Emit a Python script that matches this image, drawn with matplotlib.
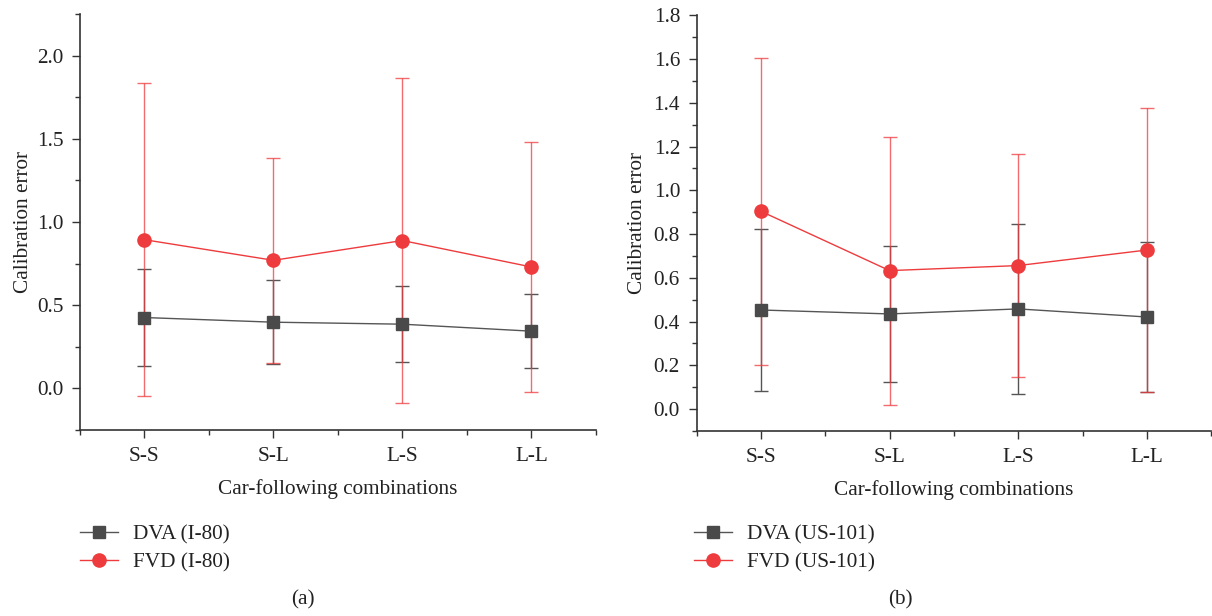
import numpy as np
import matplotlib.pyplot as plt
from matplotlib.ticker import MultipleLocator

plt.rcParams['font.family'] = ['Liberation Serif', 'DejaVu Serif']
plt.rcParams['font.size'] = 15.3
plt.rcParams['text.color'] = '#222222'
plt.rcParams['axes.labelcolor'] = '#222222'
plt.rcParams['xtick.color'] = '#333333'
plt.rcParams['ytick.color'] = '#333333'
plt.rcParams['xtick.labelcolor'] = '#222222'
plt.rcParams['ytick.labelcolor'] = '#222222'

combos = ["S-S", "S-L", "L-S", "L-L"]

# panel (a): I-80
dva_i80 = [0.426, 0.398, 0.386, 0.344]
dva_i80_err = [0.293, 0.252, 0.228, 0.223]
fvd_i80 = [0.894, 0.770, 0.889, 0.730]
fvd_i80_err = [0.940, 0.615, 0.975, 0.752]

# panel (b): US-101
dva_us101 = [0.453, 0.435, 0.458, 0.421]
dva_us101_err = [0.371, 0.309, 0.389, 0.342]
fvd_us101 = [0.904, 0.633, 0.656, 0.727]
fvd_us101_err = [0.702, 0.612, 0.508, 0.651]

GREY = '#4a4a4a'
RED = '#ee3b3d'


def draw_panel(ax, dva, dva_err, fvd, fvd_err, site, ylim, yticks, minor, ylabelpad):
    x = np.arange(1, len(combos) + 1)
    ax.errorbar(x, dva, yerr=dva_err, fmt='none', ecolor='#555555',
                elinewidth=1.0, capsize=5, capthick=1.0, zorder=2)
    ax.errorbar(x, fvd, yerr=fvd_err, fmt='none', ecolor=RED, alpha=0.75,
                elinewidth=1.0, capsize=5, capthick=1.0, zorder=3)
    ax.plot(x, dva, color='#555555', linewidth=1.0, marker='s', markersize=8.5,
            markerfacecolor=GREY, markeredgecolor=GREY, zorder=4,
            label="DVA (%s)" % site)
    ax.plot(x, fvd, color=RED, linewidth=1.0, marker='o', markersize=9.5,
            markerfacecolor=RED, markeredgecolor=RED, zorder=5,
            label="FVD (%s)" % site)

    ax.set_xlim(0.5, 4.5)
    ax.set_ylim(*ylim)
    ax.set_xticks(x)
    ax.set_xticklabels(combos)
    ax.xaxis.set_minor_locator(plt.FixedLocator([0.5, 1.5, 2.5, 3.5, 4.5]))
    ax.set_yticks(yticks)
    ax.yaxis.set_major_formatter(plt.FormatStrFormatter('%.1f'))
    ax.yaxis.set_minor_locator(MultipleLocator(minor))
    ax.tick_params(which='major', direction='out', length=6, width=1.0, pad=6)
    ax.tick_params(which='minor', direction='out', length=3.5, width=1.0)
    for side in ['top', 'right']:
        ax.spines[side].set_visible(False)
    for side in ['left', 'bottom']:
        ax.spines[side].set_color('#333333')
        ax.spines[side].set_linewidth(1.2)
    ax.set_xlabel("Car-following combinations", labelpad=10)
    ax.set_ylabel("Calibration error", labelpad=ylabelpad)


fig = plt.figure(figsize=(12.12, 6.16), dpi=100)
ax1 = fig.add_axes([0.066, 0.302, 0.4257, 0.675])
ax2 = fig.add_axes([0.5748, 0.3003, 0.4245, 0.675])

draw_panel(ax1, dva_i80, dva_i80_err, fvd_i80, fvd_i80_err, "I-80",
           (-0.25, 2.25), [0.0, 0.5, 1.0, 1.5, 2.0], 0.25, 3)
draw_panel(ax2, dva_us101, dva_us101_err, fvd_us101, fvd_us101_err, "US-101",
           (-0.1, 1.8), np.arange(0.0, 1.81, 0.2), 0.1, 5)

for ax, x0 in [(ax1, 80 / 1212), (ax2, 694 / 1212)]:
    ax.legend(loc='upper left', bbox_to_anchor=(x0, 1 - 525 / 616),
              bbox_transform=fig.transFigure, frameon=False,
              handlelength=1.8, handletextpad=0.7, labelspacing=0.36,
              borderaxespad=0, borderpad=0)

fig.text(303 / 1212, 1 - 600 / 616, "(a)", ha='center', va='center')
fig.text(900 / 1212, 1 - 600 / 616, "(b)", ha='center', va='center')

fig.savefig("out.png", dpi=100)
